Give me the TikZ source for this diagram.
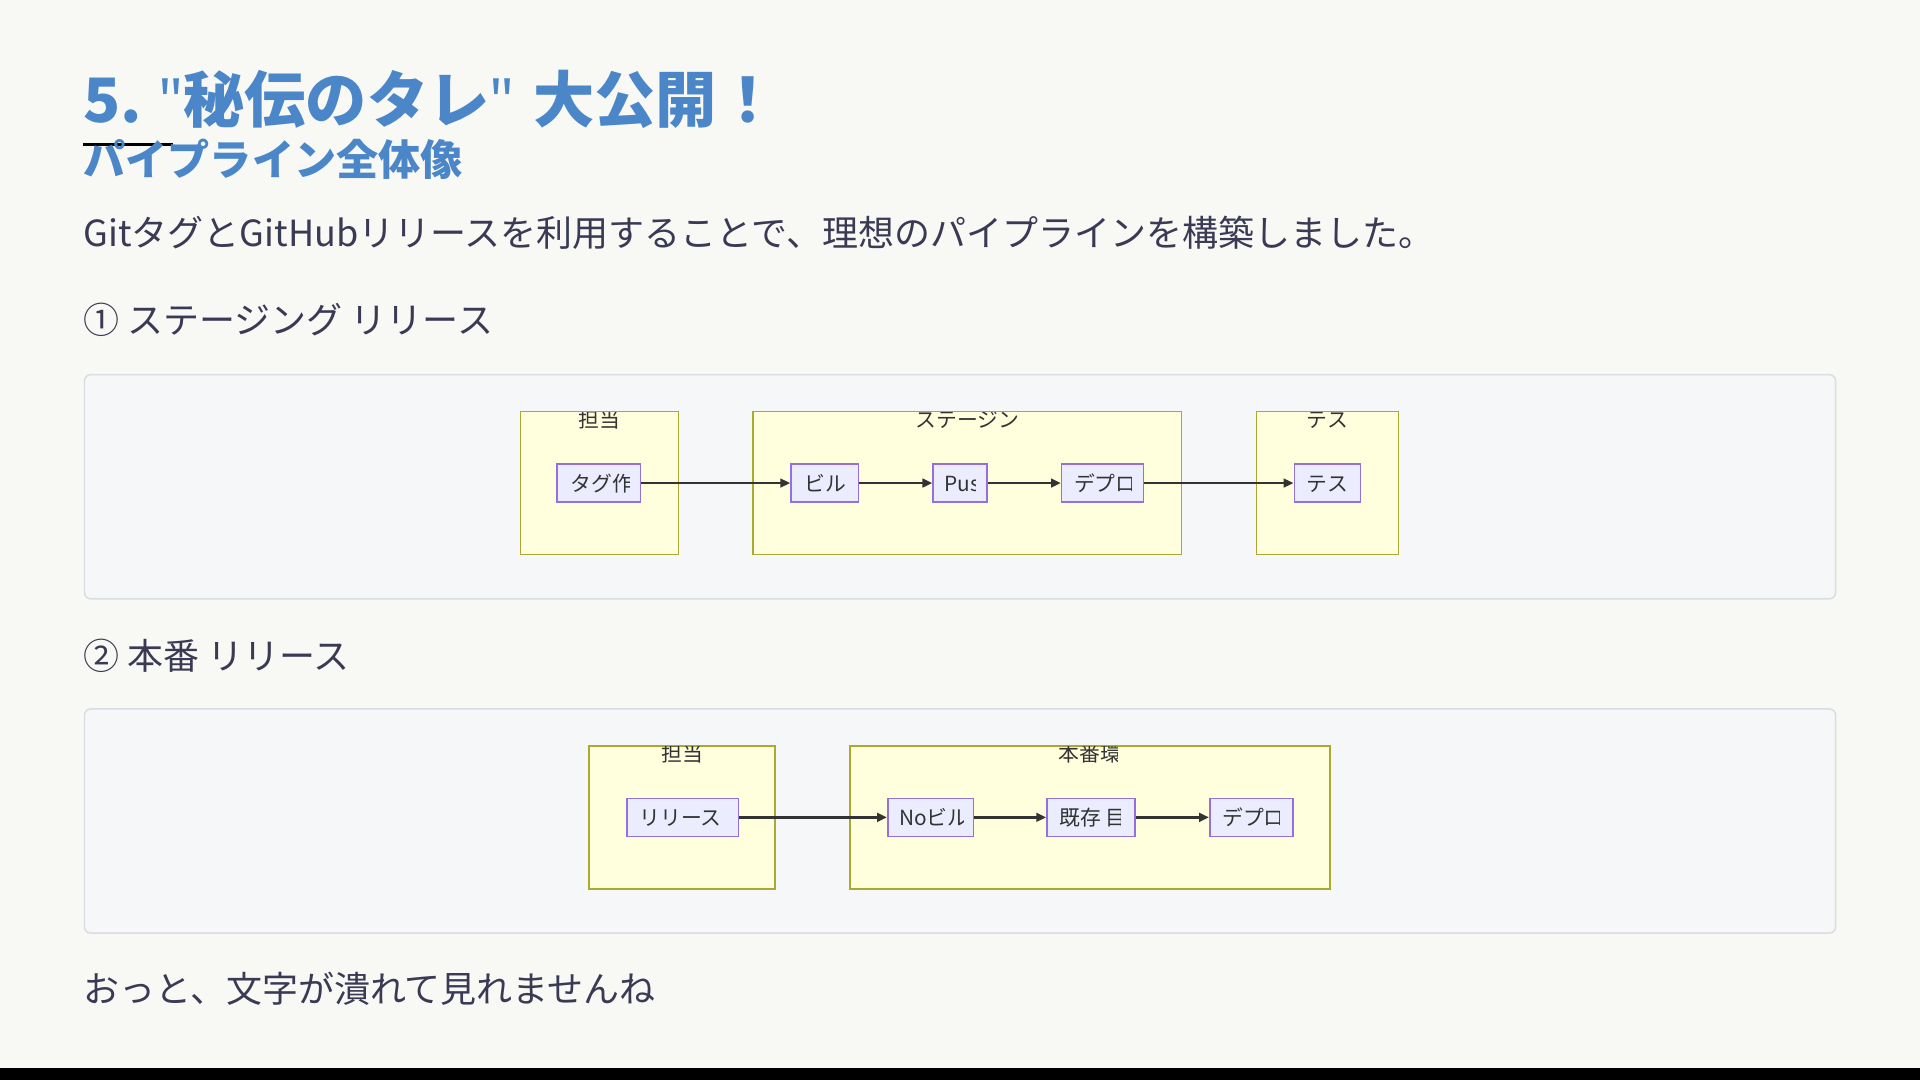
\documentclass[tikz,border=0pt]{standalone}
\usepackage{fontspec}
\setmainfont{Noto Sans CJK JP}
\newfontfamily\quotefont{Noto Sans}
\usetikzlibrary{arrows.meta}
\definecolor{bgc}{HTML}{F8F8F4}
\definecolor{panelfill}{HTML}{F6F7F9}
\definecolor{panelline}{HTML}{D9DCE0}
\definecolor{clfill}{HTML}{FFFFDE}
\definecolor{clline}{HTML}{AAAA33}
\definecolor{ndfill}{HTML}{ECECFF}
\definecolor{ndline}{HTML}{9370DB}
\definecolor{titleblue}{HTML}{4A86C8}
\definecolor{bodytext}{HTML}{3A3A55}
\definecolor{arrc}{HTML}{333333}
\newcommand{\sq}{{\quotefont\bfseries\char"22}}
\tikzset{
  x=1pt, y=-1pt,
  heading/.style={anchor=base west, inner sep=0pt, text=titleblue, font=\bfseries\fontsize{50}{56}\selectfont},
  subheading/.style={anchor=base west, inner sep=0pt, text=titleblue, font=\bfseries\fontsize{34.4}{40}\selectfont},
  bodyline/.style={anchor=base west, inner sep=0pt, text=bodytext, font=\fontsize{29.4}{35}\selectfont},
  panel/.style={draw=panelline, fill=panelfill, line width=1.2pt, rounded corners=5pt},
  cluster/.style={draw=clline, fill=clfill, line width=1.3pt},
  nodebox/.style={draw=ndline, fill=ndfill, line width=1.3pt},
  cltitle/.style={anchor=base, inner sep=0pt, text=arrc, font=\fontsize{17}{20}\selectfont},
  ndlabel/.style={anchor=base west, inner sep=0pt, text=arrc, font=\fontsize{17}{20}\selectfont},
  arr/.style={draw=arrc, line width=2pt, -{Triangle[length=8pt,width=7pt]}},
}
\begin{document}
\begin{tikzpicture}
\useasboundingbox (0,0) rectangle (1568,882);
\fill[bgc] (0,0) rectangle (1568,882);
\fill[black] (0,872) rectangle (1568,882);

% headings
\node[heading] (h1) at (68,100) {5.\hspace{-2pt} \sq 秘伝のタレ\sq\hspace{4pt} 大公開！};
\draw[black, line width=2pt] (68,118) -- (141,118);
\node[subheading] (h2) at (68,143) {パイプライン全体像};
\node[bodyline] (intro) at (68,201) {GitタグとGitHubリリースを利用することで、理想のパイプラインを構築しました。};
\node[bodyline] (sec1) at (68,272) {① ステージング リリース};
\node[bodyline] (sec2) at (68,547) {② 本番 リリース};
\node[bodyline] (outro) at (68,819) {おっと、文字が潰れて見れませんね};

% panels
\draw[panel] (69,306) rectangle (1499,489);
\draw[panel] (69,579) rectangle (1499,762);

% ---------- diagram 1 ----------
\draw[cluster] (425,336) rectangle (554,453);
\draw[cluster] (615,336) rectangle (965,453);
\draw[cluster] (1026,336) rectangle (1142,453);
\begin{scope}\clip (425,336.5) rectangle (554,453);
\node[cltitle] (c1t) at (489.5,349) {担当};\end{scope}
\begin{scope}\clip (615,336.5) rectangle (836,453);
\node[cltitle] (c2t) at (790,349) {ステージン};\end{scope}
\begin{scope}\clip (1026,336.5) rectangle (1142,453);
\node[cltitle] (c3t) at (1084,349) {テス};\end{scope}

\node[nodebox, minimum width=68pt, minimum height=31pt] (tag) at (489,394.5) {};
\node[nodebox, minimum width=55pt, minimum height=31pt] (build) at (673.5,394.5) {};
\node[nodebox, minimum width=44pt, minimum height=31pt] (push) at (784,394.5) {};
\node[nodebox, minimum width=67pt, minimum height=31pt] (deploy) at (900.5,394.5) {};
\node[nodebox, minimum width=54pt, minimum height=31pt] (test) at (1084,394.5) {};
\begin{scope}\clip (456,381) rectangle (514,408);
\node[ndlabel] (tagl) at (466,401) {タグ作};\end{scope}
\begin{scope}\clip (647,381) rectangle (691,408);
\node[ndlabel] (buildl) at (657,401) {ビル};\end{scope}
\begin{scope}\clip (763,381) rectangle (797,408);
\node[ndlabel] (pushl) at (771,401) {Pus};\end{scope}
\begin{scope}\clip (868,381) rectangle (924,408);
\node[ndlabel] (deployl) at (877,401) {デプロ};\end{scope}
\begin{scope}\clip (1058,381) rectangle (1102,408);
\node[ndlabel] (testl) at (1067,401) {テス};\end{scope}

\draw[arr] (tag.east) -- (build.west);
\draw[arr] (build.east) -- (push.west);
\draw[arr] (push.east) -- (deploy.west);
\draw[arr] (deploy.east) -- (test.west);

% ---------- diagram 2 ----------
\draw[cluster] (481,609) rectangle (633,726);
\draw[cluster] (694,609) rectangle (1086,726);
\begin{scope}\clip (481,609.5) rectangle (633,726);
\node[cltitle] (d1t) at (557,622) {担当};\end{scope}
\begin{scope}\clip (694,609.5) rectangle (913,726);
\node[cltitle] (d2t) at (890,622) {本番環};\end{scope}

\node[nodebox, minimum width=91pt, minimum height=31pt] (rel) at (557.5,667.5) {};
\node[nodebox, minimum width=70pt, minimum height=31pt] (nob) at (760,667.5) {};
\node[nodebox, minimum width=72pt, minimum height=31pt] (exist) at (891,667.5) {};
\node[nodebox, minimum width=68pt, minimum height=31pt] (deploy2) at (1022,667.5) {};
\begin{scope}\clip (513,654) rectangle (597,681);
\node[ndlabel] (rell) at (522,674) {リリース};\end{scope}
\begin{scope}\clip (726,654) rectangle (787,681);
\node[ndlabel] (nobl) at (734,674) {Noビル};\end{scope}
\begin{scope}\clip (856,654) rectangle (915,681);
\node[ndlabel] (existl) at (865,674) {既存 目};\end{scope}
\begin{scope}\clip (989,654) rectangle (1045,681);
\node[ndlabel] (deploy2l) at (998,674) {デプロ};\end{scope}

\draw[arr] (rel.east) -- (nob.west);
\draw[arr] (nob.east) -- (exist.west);
\draw[arr] (exist.east) -- (deploy2.west);
\end{tikzpicture}
\end{document}
